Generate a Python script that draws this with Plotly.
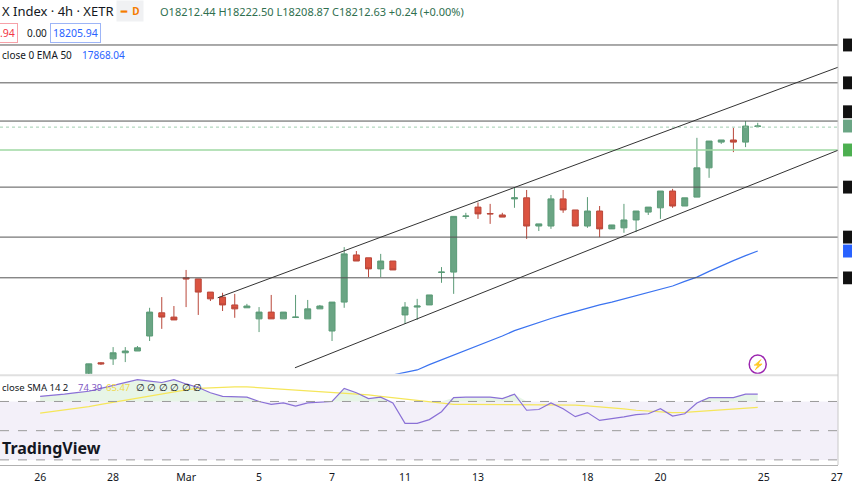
import plotly.graph_objects as go

# 4h candles, index 0 = 26 Feb first bar (first visible bar is index 4)
start_idx = 4
opens = [17513, 17550, 17561, 17578, 17583, 17625, 17690, 17678, 17788, 17785, 17748, 17734, 17712,
         17704, 17673, 17692, 17673, 17677, 17673, 17701, 17639, 17720, 17852, 17844, 17813, 17835,
         17684, 17706, 17712, 17803, 17804, 17960, 17986, 17968, 17964, 18009, 18012, 17933, 17933,
         18009, 17978, 17933, 17975, 17925, 17928, 17950, 17972, 17984, 18031, 17989, 18014, 18096,
         18168, 18174, 18168, 18212]
highs = [17508, 17552, 17594, 17594, 17597, 17704, 17734, 17709, 17810, 17785, 17748, 17746, 17743,
         17715, 17706, 17740, 17692, 17740, 17726, 17712, 17720, 17874, 17863, 17844, 17855, 17835,
         17720, 17729, 17740, 17818, 17961, 17970, 17999, 17995, 17970, 18040, 18034, 17939, 18020,
         18034, 17978, 18014, 17989, 17925, 17995, 17975, 17986, 18031, 18037, 18012, 18180, 18171,
         18174, 18208, 18227, 18222]
lows = [17522, 17544, 17544, 17552, 17583, 17611, 17645, 17670, 17706, 17684, 17723, 17695, 17676,
        17704, 17636, 17673, 17673, 17677, 17673, 17701, 17611, 17704, 17835, 17790, 17790, 17810,
        17659, 17670, 17712, 17774, 17743, 17953, 17953, 17939, 17958, 17984, 17897, 17919, 17925,
        17970, 17933, 17928, 17902, 17925, 17914, 17916, 17964, 17953, 17984, 17989, 18014, 18068,
        18163, 18140, 18154, 18210]
closes = [17547, 17547, 17578, 17583, 17592, 17692, 17678, 17670, 17785, 17748, 17729, 17712, 17701,
          17709, 17692, 17673, 17692, 17678, 17701, 17709, 17720, 17855, 17835, 17813, 17835, 17810,
          17706, 17709, 17740, 17804, 17960, 17961, 17967, 17967, 17958, 18012, 17933, 17939, 18009,
          17978, 17933, 17975, 17925, 17936, 17950, 17975, 17986, 18031, 17989, 18012, 18096, 18171,
          18174, 18168, 18213, 18213]

ema_start = 26
ema50 = [17490, 17500, 17508, 17516, 17522, 17530, 17545, 17558, 17572, 17585, 17598, 17612, 17625,
         17640, 17652, 17663, 17674, 17684, 17694, 17703, 17712, 17720, 17729, 17738, 17746, 17754,
         17765, 17778, 17790, 17806, 17822, 17836, 17850, 17863]

rsi = [73.5, 74, 75, 76, 77, 79, 81, 83, 85, 84, 83, 85, 82, 79.6, 76, 73.5, 73.4, 73, 70, 68,
       69, 66.8, 69, 69.5, 70, 79, 76, 72, 73, 69, 55, 55, 57.6, 63, 72.6, 73, 73, 73, 72, 75,
       64, 64.5, 69, 65, 59.6, 62.4, 57, 58, 59.5, 61, 61.6, 65, 60, 61.6, 69, 72.6, 72.6, 72.6, 75, 75]
rsi_ma = [62, 63, 64, 65, 66.5, 68, 69.5, 71, 72.5, 74, 75.5, 77, 78, 79, 79.5, 80, 80, 80, 79.5, 79,
          78.5, 78, 77, 76.5, 76, 75.5, 75, 74.5, 73.5, 72.5, 71.5, 70.5, 69.5, 68.5, 68, 68, 68, 68,
          68, 68, 68, 68, 68, 67.5, 67.5, 67, 66.5, 66, 65, 64, 63.5, 62.5, 62.4, 62.5, 63, 63.5,
          64.5, 65, 65.5, 66]

h_levels = [18440, 18334, 18227, 18042, 17902, 17788]
green_level = 18146
last_price = 18210
channel_up = [(14.6, 17732), (66.1, 18384)]
channel_dn = [(20.95, 17536), (66.1, 18152)]

tick_vals = [0, 6, 12, 18, 24, 30, 36, 45, 51, 59.5, 65.5]
tick_text = ["26", "28", "Mar", "5", "7", "11", "13", "18", "20", "25", "27"]

idx = list(range(start_idx, start_idx + len(opens)))
fig = go.Figure()
fig.add_trace(go.Candlestick(
    x=idx, open=opens, high=highs, low=lows, close=closes,
    increasing=dict(line=dict(color="#5b9b77", width=1), fillcolor="#6aa584"),
    decreasing=dict(line=dict(color="#b9473a", width=1), fillcolor="#db5340"),
    whiskerwidth=0, xaxis="x", yaxis="y", hoverinfo="skip"))
fig.add_trace(go.Scatter(x=list(range(ema_start, ema_start + len(ema50))), y=ema50, mode="lines",
                         line=dict(color="#3b73f0", width=1.2), xaxis="x", yaxis="y"))

ri = list(range(len(rsi)))
fig.add_trace(go.Scatter(x=ri, y=[70] * len(ri), mode="lines", line=dict(width=0),
                         xaxis="x2", yaxis="y2", hoverinfo="skip"))
fig.add_trace(go.Scatter(x=ri, y=[max(v, 70) for v in rsi], mode="lines", line=dict(width=0),
                         fill="tonexty", fillcolor="rgba(120,200,120,0.18)", xaxis="x2", yaxis="y2"))
fig.add_trace(go.Scatter(x=ri, y=rsi_ma, mode="lines", line=dict(color="#f5e65a", width=1.2),
                         xaxis="x2", yaxis="y2"))
fig.add_trace(go.Scatter(x=ri, y=rsi, mode="lines", line=dict(color="#8a70d6", width=1.2),
                         xaxis="x2", yaxis="y2"))

shapes = []
for lv in h_levels:
    shapes.append(dict(type="line", xref="paper", x0=0, x1=1, yref="y", y0=lv, y1=lv,
                       line=dict(color="#555555", width=1)))
shapes.append(dict(type="line", xref="paper", x0=0, x1=1, yref="y", y0=green_level, y1=green_level,
                   line=dict(color="#9fd9a3", width=1.5)))
shapes.append(dict(type="line", xref="paper", x0=0, x1=1, yref="y", y0=last_price, y1=last_price,
                   line=dict(color="#9fcfb0", width=1, dash="dot")))
for (a, b) in (channel_up, channel_dn):
    shapes.append(dict(type="line", xref="x", yref="y", x0=a[0], y0=a[1], x1=b[0], y1=b[1],
                       line=dict(color="#333333", width=1)))
# RSI band
shapes.append(dict(type="rect", xref="paper", x0=0, x1=1, yref="y2", y0=30, y1=70,
                   fillcolor="rgba(126,87,194,0.09)", line=dict(width=0), layer="below"))
for lv in (70, 50, 30):
    shapes.append(dict(type="line", xref="paper", x0=0, x1=1, yref="y2", y0=lv, y1=lv,
                       line=dict(color="#9a9a9a", width=1, dash="dash")))
shapes.append(dict(type="line", xref="paper", x0=0, x1=1, yref="paper", y0=0.193, y1=0.193,
                   line=dict(color="#e0e0e0", width=2)))
# right axis price tags (clipped)
tags = [(18440, "#111111"), (18334, "#111111"), (18253, "#111111"), (18213, "#6aa584"),
        (18146, "#4caf50"), (18042, "#111111"), (17902, "#111111"), (17863, "#2962ff"), (17788, "#111111")]
for p, c in tags:
    shapes.append(dict(type="rect", xref="paper", x0=1.006, x1=1.02, yref="y", y0=p - 18, y1=p + 18,
                       fillcolor=c, line=dict(width=0)))
shapes.append(dict(type="line", xref="paper", x0=1.0, x1=1.0, yref="paper", y0=0, y1=1,
                   line=dict(color="#c8c8c8", width=1)))
shapes.append(dict(type="circle", xref="x", yref="y", x0=58.3, x1=59.7, y0=17520, y1=17572,
                   line=dict(color="#9c27b0", width=1.5)))

f = "Noto Sans"
ann = [
    dict(x=0, y=11, text="X Index · 4h · XETR", size=13, color="#131722"),
    dict(x=158, y=11, text="O18212.44 H18222.50 L18208.87 C18212.63 +0.24 (+0.00%)", size=11, color="#2f6f4f"),
    dict(x=25, y=33, text="0.00", size=10, color="#131722"),
    dict(x=0, y=55, text="close 0 EMA 50", size=10, color="#131722"),
    dict(x=80, y=55, text="17868.04", size=10, color="#2962ff"),
    dict(x=0, y=387, text="close SMA 14 2", size=9.5, color="#131722"),
    dict(x=76, y=387, text="74.39", size=9.5, color="#7e57c2"),
    dict(x=104, y=387, text="65.47", size=9.5, color="#f0d84a"),
    dict(x=134, y=387, text="∅ ∅ ∅ ∅ ∅ ∅", size=9.5, color="#131722"),
]
annotations = []
for a in ann:
    annotations.append(dict(xref="paper", yref="paper", x=a["x"] / 838, y=1 - a["y"] / 465,
                            xanchor="left", yanchor="middle", showarrow=False, text=a["text"],
                            font=dict(family=f, size=a["size"], color=a["color"])))
annotations += [
    dict(xref="paper", yref="paper", x=-3 / 838, y=1 - 33 / 465, xanchor="left", yanchor="middle",
         showarrow=False, text=".94", font=dict(family=f, size=10.5, color="#f23645"),
         bordercolor="#f7a1a8", borderwidth=1, borderpad=2),
    dict(xref="paper", yref="paper", x=50 / 838, y=1 - 33 / 465, xanchor="left", yanchor="middle",
         showarrow=False, text="18205.94", font=dict(family=f, size=10.5, color="#2962ff"),
         bordercolor="#9db5f7", borderwidth=1, borderpad=2),
    dict(xref="paper", yref="paper", x=116 / 838, y=1 - 11 / 465, xanchor="left", yanchor="middle",
         showarrow=False, text="<b>━</b>  <b>D</b>", font=dict(family=f, size=10, color="#f57c00"),
         bgcolor="#f0f1f3", borderpad=3),
    dict(xref="paper", yref="paper", x=0, y=1 - 448 / 465, xanchor="left", yanchor="middle",
         showarrow=False, text="<b>TradingView</b>", font=dict(family=f, size=16, color="#131722")),
    dict(xref="x", yref="y", x=59, y=17546, showarrow=False, text="⚡",
         font=dict(size=10, color="#9c27b0")),
]

fig.update_layout(
    width=852, height=485, margin=dict(l=0, r=14, t=0, b=20, autoexpand=False),
    paper_bgcolor="white", plot_bgcolor="white", showlegend=False,
    shapes=shapes, annotations=annotations,
    xaxis=dict(domain=[0, 1], range=[-3.3, 65.6], anchor="y", showticklabels=False,
               showgrid=False, zeroline=False, rangeslider=dict(visible=False)),
    yaxis=dict(domain=[0.196, 1], range=[17519, 18566], showticklabels=False, showgrid=False,
               zeroline=False),
    xaxis2=dict(domain=[0, 1], range=[-3.3, 65.6], anchor="y2", matches="x", tickvals=tick_vals,
                ticktext=tick_text, showgrid=False, zeroline=False, showline=True,
                linecolor="#b0b0b0", ticks="", ticklabelstandoff=2,
                tickfont=dict(family=f, size=10.5, color="#131722")),
    yaxis2=dict(domain=[0, 0.19], range=[26.5, 87], showticklabels=False, showgrid=False,
                zeroline=False),
)
fig.write_html("out.html", config={"displayModeBar": False},
               post_script="document.body.style.margin='0';")
